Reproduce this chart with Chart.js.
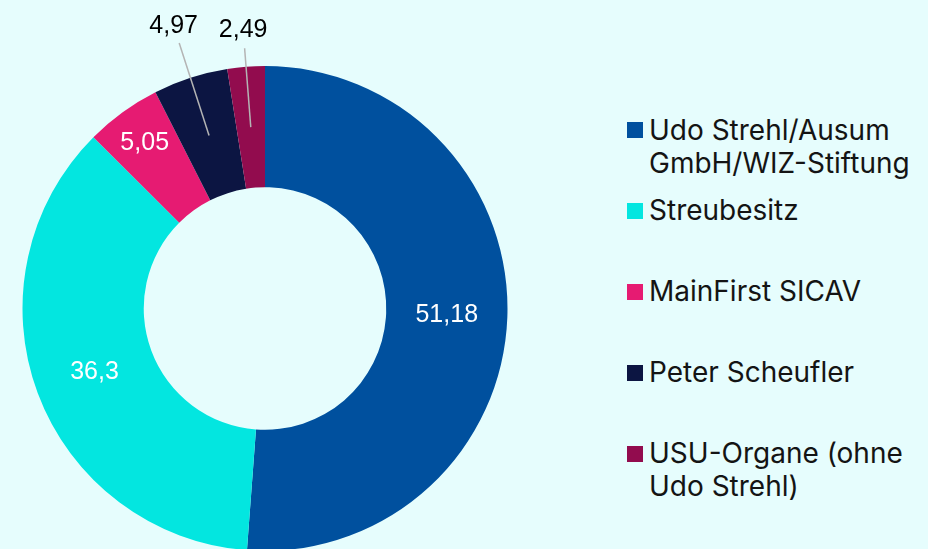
<!DOCTYPE html>
<html>
<head>
<meta charset="utf-8">
<script src="https://cdn.jsdelivr.net/npm/chart.js@4"></script>
<style>
  html, body { margin:0; padding:0; width:928px; height:549px; overflow:hidden; background:#e6fdfd; }
  #wrap { position:absolute; left:0; top:0; width:530px; height:617px; }
  #legend { position:absolute; left:627px; top:113.5px; width:300px; font-family:Inter, "Noto Sans", sans-serif; font-size:28px; color:#141414; }
  .item { position:relative; height:80.9px; }
  .sw { position:absolute; left:0; top:8.5px; width:16px; height:16px; }
  .tx { position:absolute; left:22px; top:0; line-height:33px; white-space:nowrap; }
</style>
</head>
<body>
<div id="wrap"><canvas id="c" width="530" height="617"></canvas></div>
<div id="legend"></div>
<script>
// ---- data ----
const categories = [["Udo Strehl/Ausum", "GmbH/WIZ-Stiftung"], ["Streubesitz"], ["MainFirst SICAV"], ["Peter Scheufler"], ["USU-Organe (ohne", "Udo Strehl)"]];
const values = [51.18, 36.3, 5.05, 4.97, 2.49];
const colors = ["#00509e", "#03e6e0", "#e61b72", "#0c1542", "#920c4e"];

// label placement (style config, not data)
const labelMode = ["in", "in", "in", "out", "out"];
const labelRadiusFrac = [0.5, 0.5, 0.69, 0.5, 0.5];   // fraction of ring thickness for inside labels / line start
const leaderEnd = [0, 0, 0, 279, 261];                 // radius of leader line end for outside labels

const fmt = v => String(v).replace('.', ',');

const labelPlugin = {
  id: 'sliceLabels',
  afterDatasetsDraw(chart) {
    const ctx = chart.ctx;
    const meta = chart.getDatasetMeta(0);
    meta.data.forEach((arc, i) => {
      const p = arc.getProps(['x', 'y', 'startAngle', 'endAngle', 'innerRadius', 'outerRadius'], true);
      const a = (p.startAngle + p.endAngle) / 2;
      const r0 = p.innerRadius + (p.outerRadius - p.innerRadius) * labelRadiusFrac[i];
      ctx.save();
      ctx.font = '25px "Liberation Sans", Arial, sans-serif';
      ctx.textAlign = 'center';
      ctx.textBaseline = 'middle';
      if (labelMode[i] === 'in') {
        ctx.fillStyle = '#ffffff';
        ctx.fillText(fmt(values[i]), p.x + Math.cos(a) * r0, p.y + Math.sin(a) * r0);
      } else {
        const r1 = leaderEnd[i];
        ctx.strokeStyle = '#b4b4b4';
        ctx.lineWidth = 1.5;
        ctx.beginPath();
        ctx.moveTo(p.x + Math.cos(a) * r0, p.y + Math.sin(a) * r0);
        ctx.lineTo(p.x + Math.cos(a) * r1, p.y + Math.sin(a) * r1);
        ctx.stroke();
        ctx.fillStyle = '#000000';
        const rt = r1 + 18;
        ctx.fillText(fmt(values[i]), p.x + Math.cos(a) * rt, p.y + Math.sin(a) * rt);
      }
      ctx.restore();
    });
  }
};

new Chart(document.getElementById('c'), {
  type: 'doughnut',
  data: {
    labels: categories,
    datasets: [{ data: values, backgroundColor: colors, borderWidth: 0, hoverOffset: 0 }]
  },
  options: {
    responsive: false,
    animation: false,
    cutout: '50%',
    layout: { padding: { left: 22.5, right: 22.5, top: 66, bottom: 66 } },
    plugins: { legend: { display: false }, tooltip: { enabled: false } },
    events: []
  },
  plugins: [labelPlugin]
});

// HTML legend built from the same arrays
const lg = document.getElementById('legend');
categories.forEach((lines, i) => {
  const it = document.createElement('div');
  it.className = 'item';
  const sw = document.createElement('div');
  sw.className = 'sw';
  sw.style.background = colors[i];
  const tx = document.createElement('div');
  tx.className = 'tx';
  tx.innerHTML = lines.join('<br>');
  it.appendChild(sw); it.appendChild(tx);
  lg.appendChild(it);
});
</script>
</body>
</html>
